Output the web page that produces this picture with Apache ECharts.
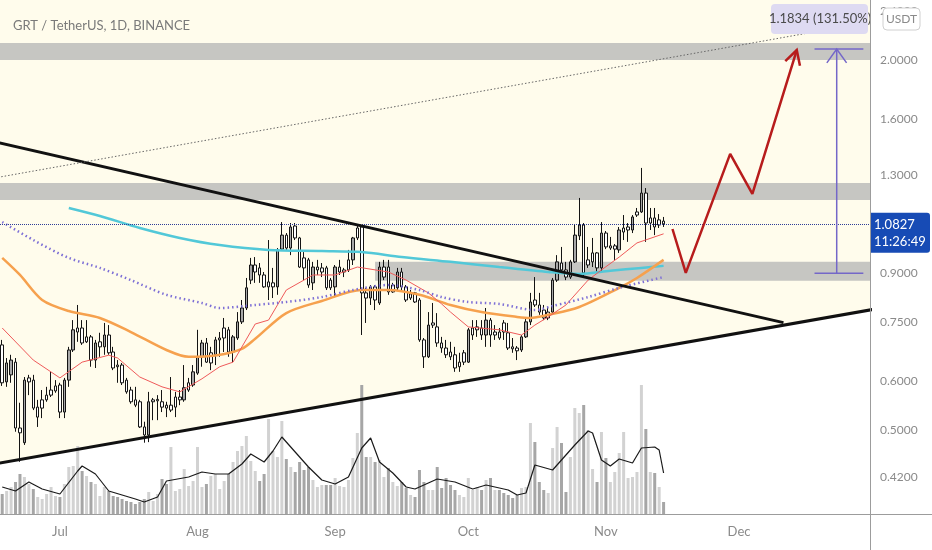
<!DOCTYPE html>
<html><head><meta charset="utf-8">
<script src="https://cdn.jsdelivr.net/npm/echarts@6/dist/echarts.min.js"></script>
<style>html,body{margin:0;padding:0;background:#fff}#c{width:932px;height:550px}</style>
</head><body><div id="c"></div><script>
// ---------- data ----------
const firstDate = '2021-06-18';
const lastCategory = '2021-12-30';
// daily candles [open, close, low, high] from 2021-06-18 to 2021-11-14
const candles = [
[0.688,0.597,0.590,0.701],[0.599,0.643,0.588,0.655],[0.615,0.650,0.597,0.663],[0.645,0.504,0.497,0.655],
[0.504,0.495,0.444,0.554],[0.477,0.603,0.473,0.610],[0.599,0.608,0.570,0.615],[0.603,0.543,0.539,0.615],
[0.525,0.545,0.506,0.560],[0.543,0.560,0.523,0.581],[0.560,0.570,0.556,0.588],[0.570,0.581,0.566,0.622],
[0.579,0.590,0.575,0.603],
[0.592,0.535,0.523,0.597],[0.535,0.603,0.523,0.608],[0.603,0.675,0.588,0.683],[0.675,0.728,0.670,0.755],
[0.722,0.733,0.696,0.799],[0.733,0.693,0.688,0.755],[0.696,0.709,0.693,0.755],[0.709,0.650,0.634,0.714],
[0.650,0.693,0.631,0.701],[0.683,0.696,0.658,0.720],[0.683,0.714,0.663,0.747],[0.714,0.668,0.663,0.741],
[0.670,0.631,0.626,0.683],[0.638,0.634,0.597,0.650],[0.638,0.597,0.592,0.643],[0.603,0.577,0.573,0.608],
[0.581,0.556,0.552,0.588],[0.560,0.549,0.545,0.588],[0.556,0.506,0.504,0.560],[0.506,0.491,0.477,0.516],
[0.491,0.556,0.478,0.577],[0.556,0.560,0.519,0.564],[0.558,0.561,0.519,0.570],[0.556,0.545,0.535,0.581],
[0.549,0.543,0.525,0.556],[0.539,0.549,0.535,0.610],[0.545,0.566,0.525,0.577],[0.560,0.566,0.549,0.581],
[0.560,0.586,0.556,0.638],[0.581,0.597,0.577,0.608],[0.592,0.622,0.588,0.638],
[0.619,0.658,0.615,0.728],[0.658,0.693,0.634,0.701],[0.693,0.645,0.643,0.706],[0.643,0.668,0.626,0.683],
[0.663,0.701,0.638,0.709],[0.701,0.706,0.658,0.722],[0.706,0.733,0.670,0.761],[0.728,0.670,0.658,0.736],
[0.670,0.709,0.645,0.714],[0.706,0.750,0.701,0.778],[0.750,0.790,0.744,0.814],[0.790,0.852,0.784,0.884],
[0.877,0.928,0.864,0.953],[0.904,0.928,0.868,0.956],[0.918,0.894,0.868,0.935],[0.894,0.855,0.852,0.904],
[0.855,0.871,0.814,1.019],[0.855,0.868,0.820,0.918],[0.855,0.982,0.830,0.989],[0.985,1.038,0.982,1.090],
[1.038,0.989,0.982,1.046],[0.989,1.070,0.963,1.086],[1.074,1.027,1.019,1.086],[1.027,0.921,0.918,1.031],
[0.953,0.918,0.877,0.974],[0.946,0.861,0.852,0.953],[0.868,0.921,0.845,0.939],[0.911,0.921,0.894,0.946],
[0.904,0.918,0.887,0.935],[0.918,0.852,0.845,0.925],[0.877,0.852,0.845,0.884],
[0.855,0.921,0.823,0.928],[0.904,0.921,0.894,0.946],[0.904,0.911,0.887,0.918],[0.911,0.946,0.904,0.982],
[0.946,1.027,0.928,1.031],[1.027,1.066,1.019,1.078],[1.070,0.836,0.714,1.078],[0.836,0.820,0.747,0.852],
[0.820,0.855,0.799,0.861],[0.855,0.814,0.784,0.861],[0.805,0.921,0.799,0.939],[0.887,0.921,0.877,0.946],
[0.921,0.839,0.830,0.946],[0.839,0.861,0.836,0.868],[0.852,0.904,0.845,0.918],[0.904,0.855,0.839,0.918],
[0.855,0.814,0.808,0.861],[0.820,0.833,0.814,0.845],[0.836,0.808,0.805,0.839],[0.814,0.701,0.696,0.820],
[0.701,0.658,0.631,0.706],[0.658,0.741,0.655,0.778],[0.741,0.747,0.733,0.805],[0.736,0.693,0.683,0.775],
[0.693,0.680,0.668,0.709],[0.680,0.663,0.655,0.701],[0.670,0.658,0.650,0.696],[0.663,0.631,0.622,0.683],
[0.634,0.645,0.622,0.668],[0.645,0.668,0.638,0.675],
[0.645,0.728,0.643,0.733],[0.714,0.733,0.701,0.755],[0.728,0.736,0.709,0.755],[0.733,0.714,0.701,0.755],
[0.714,0.755,0.683,0.790],[0.755,0.714,0.683,0.761],[0.714,0.722,0.701,0.741],[0.722,0.706,0.701,0.733],
[0.747,0.722,0.701,0.755],[0.720,0.680,0.675,0.747],[0.683,0.678,0.668,0.706],[0.680,0.673,0.650,0.685],
[0.675,0.709,0.670,0.714],[0.709,0.750,0.706,0.761],[0.750,0.808,0.741,0.836],[0.814,0.799,0.793,0.887],
[0.799,0.778,0.770,0.836],[0.784,0.761,0.755,0.799],[0.761,0.778,0.755,0.793],[0.778,0.877,0.773,0.884],
[0.877,0.939,0.871,0.963],[0.935,0.911,0.904,0.993],[0.911,0.887,0.877,0.939],[0.887,0.939,0.881,0.946],
[0.939,1.038,0.935,1.078],[1.035,1.078,1.019,1.193],[1.078,0.901,0.884,1.086],[0.928,0.946,0.918,0.993],
[0.939,0.971,0.921,1.027],[0.971,0.918,0.904,0.974],[0.918,1.046,0.904,1.090],
[1.046,0.993,0.985,1.054],[0.989,0.997,0.982,1.031],[0.985,0.997,0.946,1.004],[0.982,1.058,0.971,1.070],
[1.050,1.066,1.019,1.119],[1.058,1.070,1.012,1.086],[1.058,1.111,1.046,1.119],[1.119,1.132,1.111,1.149],
[1.132,1.215,1.128,1.335],[1.215,1.086,1.012,1.238],[1.086,1.107,1.058,1.149],[1.107,1.070,1.038,1.149],
[1.078,1.099,1.066,1.123],[1.094,1.0827,1.070,1.111]
];
// daily volume (millions), same days as candles
const volumes = [
20,23,27,32,40,37,30,25,17,15,20,27,18,
17,30,47,48,68,43,38,32,30,18,27,23,18,17,15,13,12,10,12,15,22,13,20,35,30,67,23,25,45,28,33,
67,27,30,38,40,25,33,40,52,63,68,78,53,43,33,40,95,63,57,93,55,47,42,52,44,47,34,27,29,29,29,
36,28,27,34,56,81,129,57,57,52,54,37,46,32,28,32,26,19,17,44,32,24,24,47,26,36,29,24,19,17,
36,24,27,24,34,36,24,24,21,19,16,19,26,27,91,72,32,24,21,66,87,71,22,57,106,101,109,84,45,32,82,
56,32,42,61,82,36,37,42,129,85,42,41,27,12
];
const volumeMA = [['2021-06-18',27],['2021-06-21',23],['2021-06-24',32],['2021-06-27',25],['2021-07-01',20],
['2021-07-05',43],['2021-07-06',48],['2021-07-09',40],['2021-07-12',23],['2021-07-18',15],['2021-07-20',12],
['2021-07-23',17],['2021-07-25',33],['2021-07-30',37],['2021-08-02',42],['2021-08-05',40],['2021-08-08',40],
['2021-08-11',50],['2021-08-13',60],['2021-08-16',52],['2021-08-18',63],['2021-08-20',77],['2021-08-23',62],
['2021-08-26',47],['2021-08-29',34],['2021-09-01',30],['2021-09-04',37],['2021-09-07',66],['2021-09-09',76],
['2021-09-11',52],['2021-09-14',41],['2021-09-17',27],['2021-09-19',25],['2021-09-24',35],['2021-09-28',32],
['2021-10-02',25],['2021-10-05',29],['2021-10-10',24],['2021-10-12',19],['2021-10-14',21],['2021-10-16',49],
['2021-10-20',44],['2021-10-22',54],['2021-10-25',69],['2021-10-28',83],['2021-10-29',81],['2021-10-31',54],
['2021-11-02',48],['2021-11-04',55],['2021-11-07',51],['2021-11-09',66],['2021-11-12',67],['2021-11-13',64],
['2021-11-14',41]];
const maCyan = [['2021-07-03',1.149],['2021-07-10',1.115],['2021-07-19',1.066],['2021-07-28',1.027],['2021-08-06',1.000],
['2021-08-17',0.982],['2021-08-29',0.978],['2021-09-07',0.974],['2021-09-16',0.956],['2021-09-27',0.939],['2021-10-08',0.921],
['2021-10-19',0.904],['2021-10-26',0.897],['2021-11-02',0.908],['2021-11-09',0.918],['2021-11-14',0.925]];
const maOrange = [['2021-06-18',0.953],['2021-06-22',0.894],['2021-06-27',0.814],['2021-07-03',0.781],['2021-07-10',0.761],
['2021-07-17',0.722],['2021-07-25',0.675],['2021-07-30',0.658],['2021-08-05',0.661],['2021-08-11',0.678],['2021-08-14',0.704],
['2021-08-21',0.775],['2021-08-29',0.811],['2021-09-07',0.845],['2021-09-13',0.845],['2021-09-20',0.830],['2021-09-27',0.799],
['2021-10-04',0.778],['2021-10-12',0.764],['2021-10-15',0.761],['2021-10-19',0.770],['2021-10-26',0.793],['2021-11-04',0.852],
['2021-11-08',0.884],['2021-11-14',0.946]];
const maRed = [['2021-06-18',0.733],['2021-06-25',0.650],['2021-07-01',0.608],['2021-07-06',0.645],['2021-07-12',0.662],
['2021-07-14',0.655],['2021-07-19',0.610],['2021-07-24',0.588],['2021-07-28',0.577],['2021-08-02',0.606],['2021-08-06',0.634],
['2021-08-09',0.645],['2021-08-14',0.744],['2021-08-17',0.755],['2021-08-21',0.845],['2021-08-27',0.894],['2021-09-01',0.894],
['2021-09-06',0.921],['2021-09-13',0.904],['2021-09-17',0.877],['2021-09-22',0.836],['2021-09-25',0.802],['2021-09-27',0.778],
['2021-10-01',0.736],['2021-10-08',0.728],['2021-10-13',0.714],['2021-10-16',0.741],['2021-10-19',0.764],['2021-10-23',0.799],
['2021-10-28',0.877],['2021-10-31',0.911],['2021-11-04',0.956],['2021-11-08',1.008],['2021-11-14',1.043]];
const maPurple = [['2021-06-18',1.090],['2021-06-25',1.019],['2021-07-03',0.953],['2021-07-10',0.918],['2021-07-17',0.877],
['2021-07-25',0.830],['2021-08-02',0.805],['2021-08-06',0.790],['2021-08-14',0.799],['2021-08-21',0.808],['2021-08-29',0.823],
['2021-09-05',0.845],['2021-09-13',0.861],['2021-09-20',0.845],['2021-09-25',0.823],['2021-10-01',0.808],['2021-10-08',0.802],
['2021-10-16',0.784],['2021-10-20',0.796],['2021-10-28',0.823],['2021-11-04',0.852],['2021-11-14',0.887]];
const resistanceLine = [['2021-06-17',1.4685],['2021-12-11',0.7479]];
const supportLine = [['2021-06-17',0.4415],['2021-12-31',0.7853]];
const dottedLine = [['2021-06-17',1.2885],['2021-12-31',2.3093]];
// gray zones: [start date or null for full width, low, high]
const zones = [[null,2.000,2.132],[null,1.184,1.262],['2021-09-10',0.875,0.939]];
const arrowPath = [['2021-11-16',1.062],['2021-11-19',0.901],['2021-11-29',1.407],['2021-12-04',1.211],['2021-12-14',2.076]];
const measureDates = ['2021-12-18','2021-12-29','2021-12-23'];
const measurePrices = [0.9000, 2.0834];
const measureLabel = '1.1834 (131.50%)';
const priceTicks = [0.42,0.5,0.6,0.75,0.9,1.3,1.6,2.0,2.4];
const countdown = '11:26:49';
const titleText = 'GRT / TetherUS, 1D, BINANCE';
const monthNames = ['Jan','Feb','Mar','Apr','May','Jun','Jul','Aug','Sep','Oct','Nov','Dec'];

// ---------- helpers ----------
const DAY = 86400000;
function ut(s){const p=s.split('-').map(Number);return Date.UTC(p[0],p[1]-1,p[2]);}
const t0 = ut(firstDate);
function idx(s){return Math.round((ut(s)-t0)/DAY);}
const nCat = idx(lastCategory)+1;
const cats = [];
for(let i=0;i<nCat;i++){cats.push(new Date(t0+i*DAY).toISOString().slice(0,10));}
const pts = arr => arr.map(p=>[idx(p[0]),p[1]]);
const lastClose = candles[candles.length-1][1];
const FONT = 'Lato';

const candleData = candles.map(k=>{
  const up = k[1]>=k[0];
  const strong = up && (k[1]-k[0])/k[0] > 0.04;
  return {value:k, itemStyle:{color: strong?'#a8a8a8':'#ffffff', color0:'#962626', borderColor:'#141414', borderColor0:'#141414'}};
});
const volData = volumes.map((v,i)=>({value:v, itemStyle:{color: candles[i][1]>=candles[i][0] ? '#d2d2d2':'#a6a6a6'}}));

function chevron(tip, from, len, spread){
  const a = Math.atan2(tip[1]-from[1], tip[0]-from[0]);
  return [[tip[0]-len*Math.cos(a-spread), tip[1]-len*Math.sin(a-spread)], tip,
          [tip[0]-len*Math.cos(a+spread), tip[1]-len*Math.sin(a+spread)]];
}

const zoneAreas = zones.map(z=>[
  z[0] ? {xAxis: idx(z[0]), yAxis: z[1]} : {yAxis: z[1]},
  {yAxis: z[2]}
]);

const chart = echarts.init(document.getElementById('c'), null, {renderer:'canvas'});
chart.setOption({
  animation:false,
  backgroundColor:'#ffffff',
  title:{text:titleText, left:8, top:14, textStyle:{color:'#7a7a7a', fontSize:13, fontWeight:'normal', fontFamily:FONT}},
  grid:[{left:0, right:62, top:0, bottom:36},{left:0, right:62, bottom:36, height:135}],
  xAxis:[
    {type:'category', gridIndex:0, data:cats, boundaryGap:true, axisLine:{show:false}, axisTick:{show:false}, axisLabel:{show:false}, splitLine:{show:false}},
    {type:'category', gridIndex:1, data:cats, boundaryGap:true, axisLine:{show:false}, axisTick:{show:false}, splitLine:{show:false},
     axisLabel:{interval:(i,v)=>v.slice(8)==='01', formatter:v=>monthNames[Number(v.slice(5,7))-1], color:'#8a8a8a', fontSize:13, fontFamily:FONT, margin:11}}
  ],
  yAxis:[
    {type:'log', gridIndex:0, position:'right', min:0.3652, max:2.504, logBase:10, splitLine:{show:false}, axisLine:{show:false}, axisTick:{show:false},
     axisLabel:{customValues:priceTicks, formatter:v=>Number(v).toFixed(4), color:'#8a8a8a', fontSize:12, fontFamily:FONT, margin:10}},
    {type:'value', gridIndex:1, min:0, max:135, show:false, splitLine:{show:false}}
  ],
  series:[
    {name:'bg', type:'line', data:pts(supportLine), symbol:'none', silent:true, z:0,
     lineStyle:{width:0, opacity:0}, areaStyle:{color:'#fffcec', opacity:1, origin:'end'}},
    {name:'candles', type:'candlestick', data:candleData, barWidth:3, z:3,
     markArea:{silent:true, itemStyle:{color:'#c6c6c2'}, data:zoneAreas},
     markLine:{silent:true, symbol:'none', label:{show:false}, lineStyle:{color:'#2e3d96', type:'dotted', width:1}, data:[{yAxis:lastClose}]}},
    {name:'vol', type:'bar', xAxisIndex:1, yAxisIndex:1, data:volData, barWidth:3, z:2, silent:true},
    {name:'volMA', type:'line', xAxisIndex:1, yAxisIndex:1, data:pts(volumeMA), symbol:'none', z:3, silent:true,
     lineStyle:{color:'#1a1a1a', width:1.2}},
    {name:'maCyan', type:'line', data:pts(maCyan), symbol:'none', smooth:0.3, z:4, silent:true, lineStyle:{color:'#52c8d8', width:2.5}},
    {name:'maOrange', type:'line', data:pts(maOrange), symbol:'none', smooth:0.3, z:4, silent:true, lineStyle:{color:'#f6a14e', width:2.5}},
    {name:'maRed', type:'line', data:pts(maRed), symbol:'none', z:4, silent:true, lineStyle:{color:'#ef5a5a', width:1}},
    {name:'maPurple', type:'line', data:pts(maPurple), symbol:'none', smooth:0.3, z:4, silent:true, lineStyle:{color:'#7d6fd6', width:2.5, type:[1.5,3]}},
    {name:'resistance', type:'line', data:pts(resistanceLine), symbol:'none', z:5, silent:true, lineStyle:{color:'#111', width:3}},
    {name:'support', type:'line', data:pts(supportLine), symbol:'none', z:5, silent:true, lineStyle:{color:'#111', width:3}},
    {name:'dotted', type:'line', data:pts(dottedLine), symbol:'none', z:5, silent:true, lineStyle:{color:'#666', width:1, type:[1.5,2]}},
    {name:'arrow', type:'line', data:pts(arrowPath), symbol:'none', z:8, silent:true, lineStyle:{color:'#b71c1c', width:2.5}},
    {name:'arrowHead', type:'custom', z:8, silent:true,
     data:[[idx(arrowPath[3][0]), arrowPath[3][1], idx(arrowPath[4][0]), arrowPath[4][1]]],
     encode:{x:[0,2], y:[1,3]},
     renderItem:(params, api)=>{
       const from = api.coord([api.value(0), api.value(1)]);
       const tip = api.coord([api.value(2), api.value(3)]);
       return {type:'polyline', shape:{points:chevron(tip, from, 16, 0.5)}, style:{stroke:'#b71c1c', lineWidth:2.5, fill:null}};
     }},
    {name:'measure', type:'custom', z:9, silent:true,
     data:[[idx(measureDates[0]), idx(measureDates[1]), idx(measureDates[2]), measurePrices[0], measurePrices[1]]],
     encode:{x:[0,1,2], y:[3,4]},
     renderItem:(params, api)=>{
       const xl = api.coord([api.value(0), api.value(3)])[0];
       const xr = api.coord([api.value(1), api.value(3)])[0];
       const b = api.coord([api.value(2), api.value(3)]);
       const t = api.coord([api.value(2), api.value(4)]);
       const cs = params.coordSys;
       const st = {stroke:'#7467c8', lineWidth:1.5, fill:null};
       return {type:'group', children:[
         {type:'line', shape:{x1:xl, y1:b[1], x2:xr, y2:b[1]}, style:st},
         {type:'line', shape:{x1:xl, y1:t[1], x2:xr, y2:t[1]}, style:st},
         {type:'line', shape:{x1:b[0], y1:b[1], x2:t[0], y2:t[1]}, style:st},
         {type:'polyline', shape:{points:chevron(t, b, 17, 0.62)}, style:st},
         {type:'rect', shape:{x:cs.x+cs.width-99, y:t[1]-45, width:97, height:30, r:4}, style:{fill:'#dedaf2'}},
         {type:'text', x:cs.x+cs.width-50, y:t[1]-30, style:{text:measureLabel, align:'center', verticalAlign:'middle', fill:'#4a4a4a', font:'13px '+FONT}}
       ]};
     }},
    {name:'priceTag', type:'custom', z:10, silent:true,
     data:[[candles.length-1, lastClose]],
     encode:{x:0, y:1},
     renderItem:(params, api)=>{
       const p = api.coord([api.value(0), api.value(1)]);
       const cs = params.coordSys;
       const x0 = cs.x+cs.width;
       return {type:'group', children:[
         {type:'rect', shape:{x:x0, y:p[1]-11, width:60, height:40, r:[0,3,3,0]}, style:{fill:'#174bb5'}},
         {type:'text', x:x0+4, y:p[1]+1, style:{text:api.value(1).toFixed(4), align:'left', verticalAlign:'middle', fill:'#fff', font:'13px '+FONT}},
         {type:'text', x:x0+4, y:p[1]+18, style:{text:countdown, align:'left', verticalAlign:'middle', fill:'#fff', font:'13px '+FONT}}
       ]};
     }}
  ],
  graphic:[
    {type:'line', z:20, shape:{x1:870.5, y1:0, x2:870.5, y2:550}, style:{stroke:'#9c9c9c', lineWidth:1}},
    {type:'line', z:20, shape:{x1:0, y1:514.5, x2:932, y2:514.5}, style:{stroke:'#9c9c9c', lineWidth:1}},
    {type:'rect', z:20, shape:{x:883, y:8, width:37, height:22, r:4}, style:{fill:'#ffffff', stroke:'#d0d0d0', lineWidth:1}},
    {type:'text', z:21, x:901.5, y:19, style:{text:'USDT', align:'center', verticalAlign:'middle', fill:'#8a8a8a', font:'12px '+FONT}}
  ]
});
</script></body></html>
